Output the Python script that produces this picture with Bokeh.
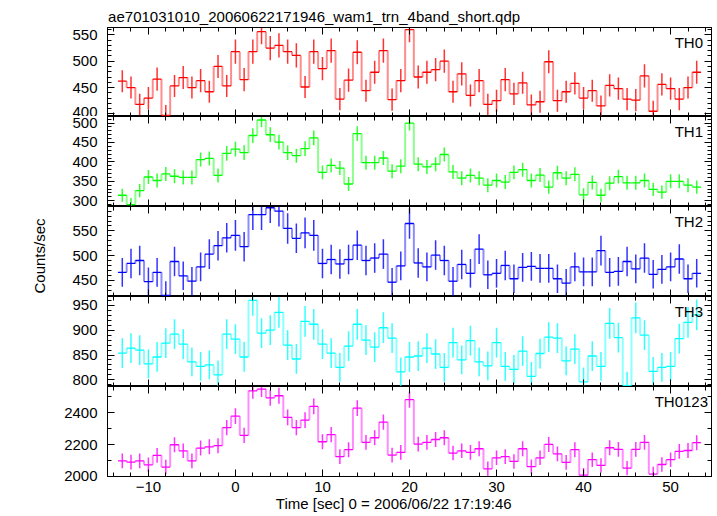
import numpy as np
from bokeh.plotting import figure
from bokeh.models import Range1d, LinearAxis, SingleIntervalTicker, Label, Title
from bokeh.layouts import column
from bokeh.embed import file_html
from bokeh.resources import INLINE

# ---------------- data ----------------
time_sec = list(range(-13, 54))
bin_width = 1.0

th0 = [462, 450, 418, 430, 466, 397, 453, 469, 450, 463, 442, 490, 453, 518, 465, 518, 556, 525, 530, 518,
       511, 451, 518, 486, 520, 428, 464, 517, 444, 479, 520, 427, 463, 560, 470, 479, 484, 500, 442, 476,
       435, 463, 418, 425, 465, 438, 459, 417, 423, 499, 425, 442, 458, 430, 444, 415, 454, 448, 428, 426,
       472, 405, 456, 448, 428, 450, 479]
th0_err = [21, 21, 20, 21, 22, 20, 21, 22, 21, 22, 21, 22, 21, 23, 22, 23, 24, 23, 23, 23,
           23, 21, 23, 22, 23, 21, 22, 23, 21, 22, 23, 21, 22, 24, 22, 22, 22, 22, 21, 22,
           21, 22, 20, 21, 22, 21, 21, 20, 21, 22, 21, 21, 21, 21, 21, 20, 21, 21, 21, 21,
           22, 20, 21, 21, 21, 21, 22]

th1 = [314, 290, 326, 361, 352, 369, 363, 360, 360, 406, 409, 365, 422, 433, 424, 468, 508, 470, 451, 424,
       416, 434, 462, 373, 391, 384, 343, 473, 398, 398, 410, 376, 389, 500, 394, 387, 394, 419, 374, 358,
       365, 358, 340, 352, 348, 373, 380, 352, 366, 335, 372, 358, 368, 315, 347, 314, 345, 362, 346, 346,
       352, 329, 322, 350, 350, 340, 335]
th1_err = [17, 17, 17, 18, 18, 18, 18, 18, 18, 18, 18, 18, 19, 19, 19, 19, 19, 19, 19, 19,
           18, 19, 19, 18, 18, 18, 18, 19, 18, 18, 18, 18, 18, 19, 18, 18, 18, 18, 18, 18,
           18, 18, 18, 18, 18, 18, 18, 18, 18, 17, 18, 18, 18, 17, 18, 17, 18, 18, 18, 18,
           18, 17, 17, 18, 18, 18, 17]

th2 = [466, 484, 490, 447, 466, 419, 488, 459, 448, 477, 503, 520, 536, 541, 518, 583, 583, 597, 590, 555,
       535, 546, 541, 484, 492, 483, 492, 521, 490, 495, 503, 446, 479, 565, 485, 477, 501, 490, 448, 482,
       464, 513, 461, 464, 480, 453, 476, 478, 474, 474, 453, 444, 477, 467, 467, 510, 466, 468, 488, 473,
       495, 462, 472, 477, 493, 453, 464]
th2_err = [29, 30, 30, 29, 29, 29, 30, 29, 29, 29, 30, 30, 30, 31, 30, 31, 31, 31, 31, 31,
           30, 31, 31, 30, 30, 30, 30, 30, 30, 30, 30, 29, 29, 31, 30, 29, 30, 30, 29, 30,
           29, 30, 29, 29, 30, 29, 29, 29, 29, 29, 29, 29, 29, 29, 29, 30, 29, 29, 30, 29,
           30, 29, 29, 29, 30, 29, 29]

th3 = [854, 864, 860, 832, 846, 874, 892, 872, 836, 827, 830, 810, 892, 882, 846, 960, 894, 900, 936, 870,
       842, 918, 912, 872, 854, 825, 868, 912, 880, 866, 905, 884, 816, 846, 848, 864, 852, 825, 875, 840,
       879, 836, 828, 875, 827, 821, 858, 807, 853, 886, 884, 838, 862, 796, 848, 827, 914, 885, 788, 925,
       890, 817, 825, 827, 883, 916, 931]
th3_err = [30, 30, 30, 29, 30, 30, 30, 30, 29, 29, 29, 29, 30, 30, 30, 31, 30, 30, 31, 30,
           30, 31, 31, 30, 30, 29, 30, 31, 30, 30, 31, 30, 29, 30, 30, 30, 30, 29, 30, 29,
           30, 29, 29, 30, 29, 29, 30, 29, 30, 30, 30, 29, 30, 29, 30, 29, 31, 30, 28, 31,
           30, 29, 29, 29, 30, 31, 31]

th0123 = [2098, 2090, 2098, 2073, 2132, 2059, 2199, 2161, 2098, 2178, 2186, 2193, 2306, 2379, 2258, 2538,
          2549, 2494, 2507, 2371, 2306, 2354, 2440, 2218, 2262, 2124, 2168, 2429, 2214, 2243, 2341, 2134,
          2151, 2482, 2203, 2214, 2232, 2243, 2147, 2161, 2151, 2174, 2048, 2117, 2124, 2094, 2174, 2061,
          2117, 2201, 2142, 2088, 2168, 2008, 2105, 2069, 2180, 2170, 2052, 2170, 2214, 2015, 2075, 2105,
          2157, 2163, 2212]
th0123_err = [46, 46, 46, 46, 46, 45, 47, 46, 46, 47, 47, 47, 48, 49, 48, 50,
              50, 50, 50, 49, 48, 49, 49, 47, 48, 46, 47, 49, 47, 47, 48, 46,
              46, 50, 47, 47, 47, 47, 46, 46, 46, 47, 45, 46, 46, 46, 47, 45,
              46, 47, 46, 46, 47, 45, 46, 45, 47, 47, 45, 47, 47, 45, 46, 46,
              46, 47, 47]

band_names = ["TH0", "TH1", "TH2", "TH3", "TH0123"]
band_values = [th0, th1, th2, th3, th0123]
band_errors = [th0_err, th1_err, th2_err, th3_err, th0123_err]

title_text = "ae701031010_20060622171946_wam1_trn_4band_short.qdp"
x_title = "Time [sec] 0 = 2006/06/22 17:19:46"
y_title = "Counts/sec"

# ---------------- styling ----------------
colors = ["#ff0000", "#00ff00", "#0000ff", "#00ffff", "#ff00ff"]
y_ranges = [(395, 564), (285, 517), (417, 599.5), (786.5, 968), (1999.5, 2565)]
y_major = [50, 50, 50, 50, 200]
y_nminor = [5, 5, 5, 5, 2]
label_right_pad = [8.5, 8.5, 8.5, 8.5, 3.5]
FONT = "Liberation Sans"
FS = "15px"
FRAME_W = 604


def style_axis(ax, ticker, show_labels):
    ax.ticker = ticker
    ax.major_tick_in = 7
    ax.major_tick_out = 0
    ax.minor_tick_in = 4
    ax.minor_tick_out = 0
    ax.major_tick_line_color = "black"
    ax.minor_tick_line_color = "black"
    ax.axis_line_color = "black"
    ax.axis_label = None
    if show_labels:
        ax.major_label_text_font = FONT
        ax.major_label_text_font_size = FS
        ax.major_label_text_color = "black"
    else:
        ax.major_label_text_color = None
        ax.major_label_text_font_size = "0px"
        ax.major_label_standoff = 0


figs = []
n = len(band_names)
for i in range(n):
    first = i == 0
    last = i == n - 1
    fh = 89 if first else 90
    p = figure(frame_width=FRAME_W, frame_height=fh,
               x_range=Range1d(-14.7, 54.7), y_range=Range1d(*y_ranges[i]),
               output_backend="svg", toolbar_location=None,
               min_border_left=107, min_border_right=6,
               min_border_top=27 if first else 0,
               min_border_bottom=40 if last else 0,
               outline_line_color="black", background_fill_color="white",
               border_fill_color="white")
    p.grid.visible = False

    # axes
    style_axis(p.xaxis[0], SingleIntervalTicker(interval=10, num_minor_ticks=5), last)
    if last:
        p.xaxis[0].major_label_standoff = 5
    style_axis(p.yaxis[0], SingleIntervalTicker(interval=y_major[i], num_minor_ticks=y_nminor[i]), True)
    p.yaxis[0].major_label_standoff = 10
    top_ax = LinearAxis()
    style_axis(top_ax, SingleIntervalTicker(interval=10, num_minor_ticks=5), False)
    p.add_layout(top_ax, "above")
    right_ax = LinearAxis()
    style_axis(right_ax, SingleIntervalTicker(interval=y_major[i], num_minor_ticks=y_nminor[i]), False)
    p.add_layout(right_ax, "right")

    t = np.array(time_sec, dtype=float)
    v = np.array(band_values[i], dtype=float)
    e = np.array(band_errors[i], dtype=float)
    left = t - bin_width / 2
    right = t + bin_width / 2
    c = colors[i]

    # step risers
    p.segment(x0=right[:-1], y0=v[:-1], x1=right[:-1], y1=v[1:],
              line_color=c, line_alpha=0.45, line_width=2)
    # bins
    p.segment(x0=left, y0=v, x1=right, y1=v, line_color=c, line_width=1.3)
    # error bars
    p.segment(x0=t, y0=v - e, x1=t, y1=v + e, line_color=c, line_alpha=0.8, line_width=1.5)

    p.add_layout(Label(x=FRAME_W - label_right_pad[i], y=fh - 15.2, x_units="screen", y_units="screen",
                       text=band_names[i], text_align="right", text_baseline="alphabetic",
                       text_font=FONT, text_font_size=FS, text_color="black"))
    if first:
        p.add_layout(Title(text=title_text, align="left", offset=0.6, vertical_align="bottom",
                           standoff=6, text_font=FONT, text_font_size=FS,
                           text_font_style="normal", text_color="black"), "above")
    if i == 2:
        p.add_layout(Title(text=y_title, align="left", offset=3, vertical_align="middle",
                           standoff=42, text_font=FONT, text_font_size=FS,
                           text_font_style="normal", text_color="black"), "left")
    if last:
        p.add_layout(Title(text=x_title, align="left", offset=168.3, vertical_align="top",
                           standoff=0, text_font=FONT, text_font_size=FS,
                           text_font_style="normal", text_color="black"), "below")
    figs.append(p)

layout = column(*figs, spacing=0)
open("out.html", "w").write(file_html(layout, INLINE))
